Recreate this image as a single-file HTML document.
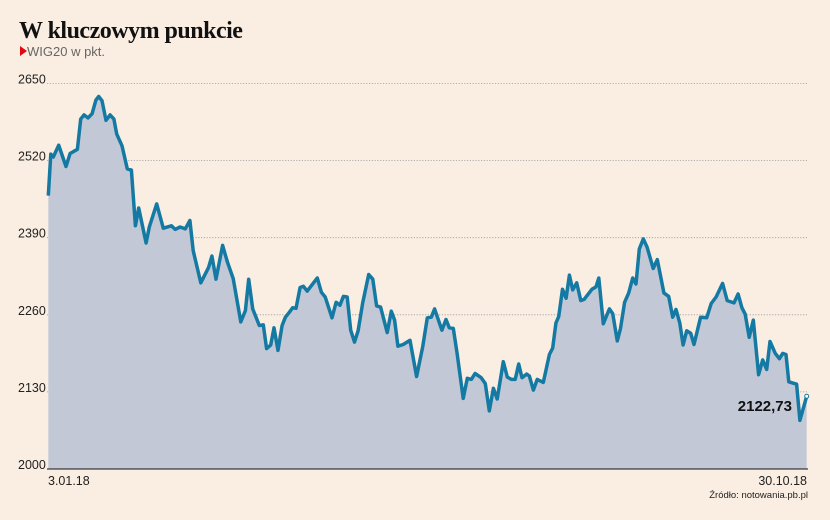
<!DOCTYPE html>
<html><head><meta charset="utf-8"><style>
body{margin:0;background:#faeee2;}
svg{display:block;font-family:"Liberation Sans",sans-serif;}
</style></head><body>
<svg width="830" height="520" viewBox="0 0 830 520" xmlns="http://www.w3.org/2000/svg">
<rect width="830" height="520" fill="#faeee2"/>
<text x="19" y="38" font-family="Liberation Serif, serif" font-weight="bold" font-size="24" fill="#111" letter-spacing="-0.5">W kluczowym punkcie</text>
<polygon points="20,46 20,56 27,51" fill="#e30613"/>
<text x="27" y="56" font-size="13" fill="#666">WIG20 w pkt.</text>
<g id="grid"></g>
<path id="area" fill="#c3c8d6"/>
<path id="line" fill="none" stroke="#157aa3" stroke-width="3.5" stroke-linejoin="round"/>
<line x1="47" x2="808" y1="469" y2="469" stroke="#111" stroke-width="1"/>
<text x="48" y="485" font-size="12.5" fill="#222">3.01.18</text>
<text x="807" y="485" font-size="12.5" fill="#222" text-anchor="end">30.10.18</text>
<text x="808" y="498" font-size="9.5" fill="#222" text-anchor="end">Źródło: notowania.pb.pl</text>
<text id="lastlbl" x="792" y="411" font-size="15" font-weight="bold" fill="#111" text-anchor="end"></text>
<circle id="lastdot" r="2" fill="#fff" stroke="#157aa3" stroke-width="1"/>
</svg>
<script>
const days=[0.5,1.5,2.5,4.6,7.5,9.1,12,13.3,14.6,16.2,17.8,19.3,20.4,21.7,23.3,24.9,26.4,27.5,29.6,31.7,33.3,34.9,36.2,39.1,40.4,43.3,45.9,49.1,50.6,52.5,54.6,56.4,57.7,60.7,63.8,65.1,66.7,69.3,71.2,73.5,76.5,78.3,79.6,81.2,83.8,85.4,86.7,88.3,89.6,91.2,92.8,94.1,95.6,97,98.3,99.9,101.2,102.7,106.7,108.3,109.8,112.5,114.1,115.6,117,118.5,119.9,121.4,122.8,124.6,127,128.6,130.1,131.7,134.3,135.9,137.2,138.5,140.6,143.3,145.9,148.3,150.1,151.7,153,155.9,157.5,158.8,160.4,161.9,164.3,165.9,167.5,169,171.4,173,174.6,176.2,177.7,180.1,181.7,183.3,184.8,186.2,187.5,189.3,190.4,192,193.5,195.9,198.3,199.6,200.9,202,203.5,204.9,206.2,207.5,209.1,210.7,212,215.1,216.7,217.8,219.6,222,223.3,225.1,226.4,228,229.6,231.2,232.5,233.8,235.4,236.9,239.3,240.9,243.5,245.4,247,248.3,249.8,251.1,252.5,254.1,255.4,258,260.4,262.2,264.1,266.7,268.5,271.2,272.8,274.3,275.6,277.2,278.8,280.9,282.5,284.1,285.4,287.5,289.1,290.4,291.7,292.8,295.9,297.2,299.9];
const values=[2461,2531,2526,2546,2510,2532,2539,2590,2597,2592,2599,2622,2628,2621,2588,2597,2590,2565,2545,2506,2504,2410,2440,2381,2408,2447,2406,2410,2404,2408,2405,2419,2368,2314,2340,2359,2320,2377,2349,2321,2248,2267,2320,2270,2242,2243,2203,2209,2238,2200,2242,2256,2264,2272,2271,2306,2308,2300,2322,2298,2290,2255,2281,2276,2291,2290,2234,2214,2233,2280,2328,2320,2275,2273,2230,2266,2251,2207,2210,2217,2156,2206,2255,2256,2270,2234,2252,2238,2237,2195,2119,2153,2151,2161,2154,2144,2098,2136,2118,2181,2155,2151,2151,2177,2154,2160,2157,2133,2151,2146,2193,2204,2246,2257,2303,2288,2327,2302,2314,2284,2286,2303,2307,2322,2245,2270,2262,2216,2237,2281,2297,2322,2312,2371,2388,2374,2338,2353,2297,2291,2256,2269,2246,2209,2233,2229,2210,2256,2255,2279,2290,2313,2284,2280,2295,2272,2261,2222,2251,2159,2184,2168,2215,2195,2186,2195,2193,2147,2143,2082,2122.73];
const yTicks=[2000,2130,2260,2390,2520,2650];
const dayMax=300;
const X0=47,X1=807,Y0=469,Y1=83.5;
const xs=d=>X0+(d/dayMax)*(X1-X0);
const ys=v=>Y0-(v-2000)/650*(Y0-Y1);
const ns="http://www.w3.org/2000/svg";
const g=document.getElementById('grid');
yTicks.forEach(t=>{
  const y=ys(t);
  if(t>2000){
    const l=document.createElementNS(ns,'line');
    
    
    l.setAttribute('x1',47);l.setAttribute('x2',808);l.setAttribute('y1',y);l.setAttribute('y2',y);
    l.setAttribute('stroke','#9a9a9a');l.setAttribute('stroke-width','0.8');l.setAttribute('stroke-dasharray','1.2 1.6');
    g.appendChild(l);
  }
  const tx=document.createElementNS(ns,'text');
  
  
  tx.setAttribute('x',18);tx.setAttribute('y',y);tx.setAttribute('font-size','12.5');tx.setAttribute('fill','#222');
  tx.textContent=t;
  g.appendChild(tx);
});
let d='';
values.forEach((v,i)=>{d+=(i?'L':'M')+xs(days[i]).toFixed(1)+','+ys(v).toFixed(1);});
document.getElementById('line').setAttribute('d',d);
const lx=xs(days[days.length-1]).toFixed(1);
document.getElementById('area').setAttribute('d',d+'L'+lx+','+Y0+'L'+xs(days[0]).toFixed(1)+','+Y0+'Z');
const lv=values[values.length-1];
document.getElementById('lastlbl').textContent=lv.toFixed(2).replace('.',',');
document.getElementById('lastdot').setAttribute('cx',lx);
document.getElementById('lastdot').setAttribute('cy',ys(lv));
</script>
</body></html>
